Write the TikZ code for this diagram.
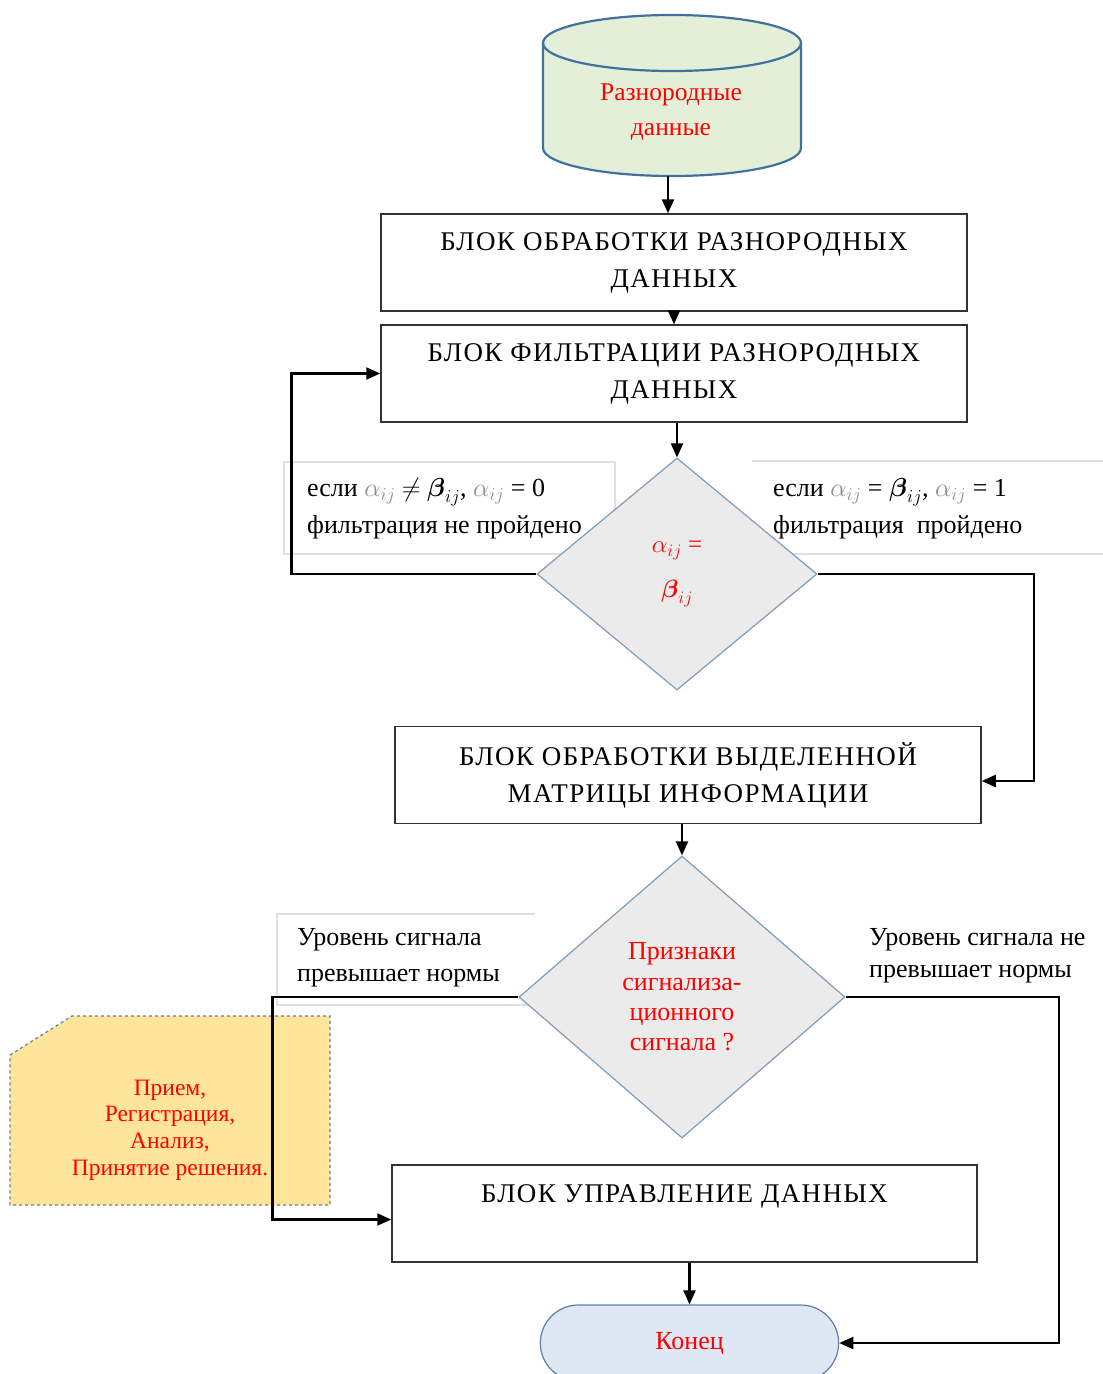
\RequirePackage{fix-cm}
\documentclass[tikz,border=0pt]{standalone}
\usepackage{amsmath}
\usepackage{fontspec}
\setmainfont{Liberation Serif}
\newfontfamily\widefont[LetterSpace=5]{Liberation Serif}
\usetikzlibrary{shapes.geometric,shapes.misc,arrows.meta}
\definecolor{cylfill}{HTML}{E3EFD9}
\definecolor{cylline}{HTML}{41719C}
\definecolor{dmfill}{HTML}{EBEBEB}
\definecolor{dmline}{HTML}{7F9DB9}
\definecolor{termfill}{HTML}{DEE8F4}
\definecolor{termline}{HTML}{5B80A8}
\definecolor{cardfill}{HTML}{FFE59A}
\definecolor{cardline}{HTML}{5B7FA6}
\definecolor{lblline}{HTML}{E0E0E0}
\definecolor{alphagray}{HTML}{8C8C8C}
\newcommand{\txtsize}{\widefont\fontsize{27}{37}\selectfont}
\begin{document}
\begin{tikzpicture}[x=1pt,y=-1pt,
  blockbox/.style={draw=black!80, line width=1.5pt, minimum width=586pt, minimum height=97pt,
    align=center, font=\txtsize, inner sep=0pt},
  decision/.style={diamond, draw=dmline, fill=dmfill, line width=1.2pt, align=center,
    inner sep=0pt, text=red},
  flow/.style={line width=2.2pt, -{Triangle[length=14pt,width=12pt]}},
  lbltext/.style={anchor=west, align=left, inner sep=0pt, font=\fontsize{26}{37}\selectfont},
  lblbox/.style={draw=lblline, line width=1.2pt}
]
\useasboundingbox (0,0) rectangle (1103,1374);

% cylinder
\draw[cylline, fill=cylfill, line width=2.2pt]
  (543,43) -- (543,148) arc[start angle=180, end angle=360, x radius=129pt, y radius=28pt]
  -- (801,43) arc[start angle=0, end angle=180, x radius=129pt, y radius=28pt] -- cycle;
\draw[cylline, line width=2.2pt] (543,43) arc[start angle=180, end angle=360, x radius=129pt, y radius=28pt];
\node[align=center, text=red, font=\fontsize{25.5}{35}\selectfont, inner sep=0pt] (db) at (671,112) {Разнородные\\данные};
\coordinate (dbbot) at (668,176);

% blocks
\node[blockbox] (b1) at (674,262.5) {БЛОК ОБРАБОТКИ РАЗНОРОДНЫХ\\ДАННЫХ};
\node[blockbox] (b2) at (674,373.5) {БЛОК ФИЛЬТРАЦИИ РАЗНОРОДНЫХ\\ДАННЫХ};
\node[blockbox] (b3) at (688,775) {БЛОК ОБРАБОТКИ ВЫДЕЛЕННОЙ\\МАТРИЦЫ ИНФОРМАЦИИ};
\node[blockbox, minimum width=585pt, text height=19pt, text depth=42pt] (b4) at (684.5,1213.5) {БЛОК УПРАВЛЕНИЕ ДАННЫХ};

% label boxes (first decision)
\draw[lblbox] (284,462) rectangle (615,554);
\draw[lblbox] (752,461) -- (1103,461);
\draw[lblbox] (752,554) -- (1103,554);
% label box (second decision)
\draw[lblbox] (535,914) -- (277,914) -- (277,1005) -- (535,1005);

% yellow card
\draw[cardline, fill=cardfill, line width=1.2pt, dashed]
  (10,1055) -- (72,1016) -- (330,1016) -- (330,1205) -- (10,1205) -- cycle;
\node[align=center, text=red, font=\fontsize{23.5}{26.7}\selectfont, inner sep=0pt] (card) at (170,1130)
  {Прием,\\Регистрация,\\Анализ,\\Принятие решения.};

% decisions
\node[decision, minimum width=280pt, minimum height=232pt, font=\fontsize{25}{45}\selectfont] (d1) at (677,574)
  {$\alpha_{ij}$ =\\$\boldsymbol{\beta}_{ij}$};
\node[decision, minimum width=326pt, minimum height=282pt, font=\fontsize{26}{30.3}\selectfont] (d2) at (682,997)
  {Признаки\\сигнализа-\\ционного\\сигнала ?};

% terminal
\node[rounded rectangle, draw=termline, fill=termfill, line width=1.2pt, minimum width=305pt,
  minimum height=76pt, text=red, font=\fontsize{26}{30}\selectfont] (end) at (689.5,1343) {Конец};

% labels
\node[lbltext] (l1) at (307,509)
  {если \textcolor{alphagray}{$\alpha_{ij}$} $\neq$ $\boldsymbol{\beta}_{ij}$, \textcolor{alphagray}{$\alpha_{ij}$} = 0\\фильтрация не пройдено};
\node[lbltext] (l2) at (773,509)
  {если \textcolor{alphagray}{$\alpha_{ij}$} = $\boldsymbol{\beta}_{ij}$, \textcolor{alphagray}{$\alpha_{ij}$} = 1\\фильтрация\hspace{0.5em}пройдено};
\node[lbltext, font=\fontsize{26}{36}\selectfont] (l3) at (297,958) {Уровень сигнала\\превышает нормы};
\node[lbltext, font=\fontsize{26}{32}\selectfont] (l4) at (869,956) {Уровень сигнала не\\превышает нормы};

% connectors
\draw[flow] (dbbot) -- (dbbot |- b1.north);
\draw[flow] (b1.south) -- (b2.north);
\draw[flow] (d1.north |- b2.south) -- (d1.north);
\draw[flow] (d1.west) -- ++(-245,0) |- (b2.west);
\draw[flow] (d1.east) -- ++(216,0) |- ([yshift=-6pt]b3.east);
\draw[flow] (d2.north |- b3.south) -- (d2.north);
\draw[flow] (d2.west) -- ++(-246,0) |- ([yshift=-6pt]b4.west);
\draw[flow] (d2.east) -- ++(213,0) |- (end.east);
\draw[flow] (end.north |- b4.south) -- (end.north);
\end{tikzpicture}
\end{document}
